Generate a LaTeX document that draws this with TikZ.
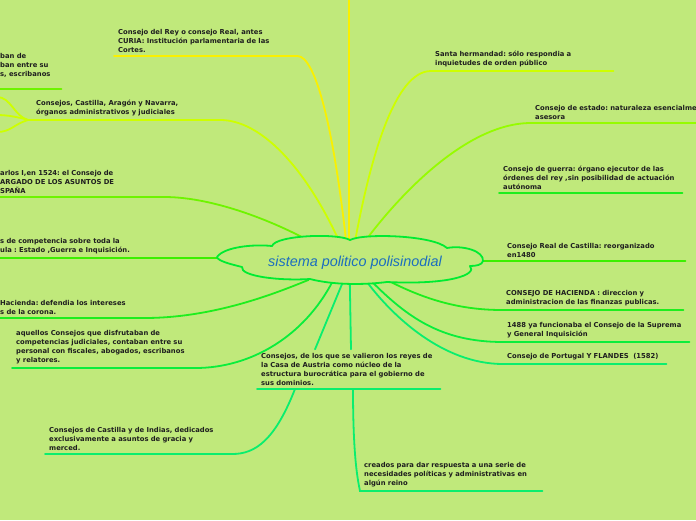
\documentclass[tikz,border=0pt]{standalone}
\usepackage{fontspec}
\setmainfont{DejaVu Sans}
\newfontfamily\corefont{Liberation Sans}
\usetikzlibrary{shapes.geometric}
\frenchspacing

\definecolor{mapbg}{RGB}{192,233,123}
\definecolor{coreblue}{RGB}{28,110,190}
\definecolor{coregreen}{RGB}{0,236,50}
\definecolor{gYellow}{RGB}{250,240,0}
\definecolor{gLime}{RGB}{206,255,0}
\definecolor{gChart}{RGB}{150,252,0}
\definecolor{gGreenA}{RGB}{110,244,0}
\definecolor{gGreenB}{RGB}{60,240,0}
\definecolor{gGreenC}{RGB}{30,238,30}
\definecolor{gGreenD}{RGB}{10,238,60}
\definecolor{gTeal}{RGB}{10,238,110}

\pgfdeclarelayer{paper}
\pgfdeclarelayer{links}
\pgfsetlayers{paper,links,main}

\begin{document}
\begin{tikzpicture}[x=1pt, y=-1pt,
  topic/.style={anchor=south west, align=left, inner xsep=4pt, inner ysep=3.5pt,
    font=\fontsize{6.8}{9}\selectfont\bfseries, text=black!88},
  link/.style={line width=1.8pt, line cap=round},
  core/.style={ellipse, minimum width=250pt, minimum height=36pt, inner sep=0pt,
    font=\corefont\fontsize{14.4}{16}\selectfont\itshape, text=coreblue},
  puffs/.style={draw=coregreen, fill=mapbg, line width=1.8pt, line join=round}
]

\begin{pgfonlayer}{paper}
\fill[mapbg] (0,0) rectangle (696,520);
\end{pgfonlayer}
\useasboundingbox (0,0) rectangle (696,520);
\clip (0,0) rectangle (696,520);

% cloud round the centre
\draw[puffs, shift={(348,261)}] (-131,-4)
  .. controls (-124,-14) and (-95,-17) .. (-76,-15)
  .. controls (-72,-26) and (-10,-28) .. (2,-21)
  .. controls (15,-28) and (85,-26) .. (99,-13)
  .. controls (115,-16) and (136,-10) .. (135,0)
  .. controls (134,4) and (128,5) .. (122,5)
  .. controls (130,14) and (100,24) .. (39,21)
  .. controls (15,24) and (-15,24) .. (-38,18)
  .. controls (-70,20) and (-108,15) .. (-106,6)
  .. controls (-118,3) and (-130,0) .. cycle;

% centre
\node[core] (core) at (355,263) {sistema politico polisinodial};

% topics
\node[topic, text width=175pt] (rey)     at (114,56)  {Consejo del Rey o consejo Real, antes\\CURIA: Institución parlamentaria de las\\Cortes.};
\node[topic, text width=180pt] (cal)     at (32,120)  {Consejos, Castilla, Aragón y Navarra,\\órganos administrativos y judiciales};
\node[topic, text width=57pt]  (tl)      at (-4,89)   {ban de\\ban entre su\\s, escribanos\\\mbox{}};
\node[topic, text width=160pt] (carlos)  at (-4,197)  {arlos I,en 1524: el Consejo de\\ARGADO DE LOS ASUNTOS DE\\SPAÑA};
\node[topic, text width=150pt] (comp)    at (-4,258)  {s de competencia sobre toda la\\ula : Estado ,Guerra e Inquisición.};
\node[topic, text width=140pt] (hacL)    at (-4,318)  {Hacienda: defendia los intereses\\s de la corona.};
\node[topic, text width=175pt] (aquel)   at (12,368)  {aquellos Consejos que disfrutaban de\\competencias judiciales, contaban entre su\\personal con fiscales, abogados, escribanos\\y relatores.};
\node[topic, text width=175pt] (aus)     at (257,389) {Consejos, de los que se valieron los reyes de\\la Casa de Austria como núcleo de la\\estructura burocrática para el gobierno de\\sus dominios.};
\node[topic, text width=179pt] (castind) at (45,454)  {Consejos de Castilla y de Indias, dedicados\\exclusivamente a asuntos de gracia y\\merced.};
\node[topic, text width=174pt] (creados) at (360,491) {creados para dar respuesta a una serie de\\necesidades políticas y administrativas en\\algún reino};
\node[topic, text width=174pt] (santa)   at (431,71)  {Santa hermandad: sólo respondia a\\inquietudes de orden público};
\node[topic, text width=200pt] (estado)  at (531,123) {Consejo de estado: naturaleza esencialmente\\asesora};
\node[topic, text width=175pt] (guerra)  at (499,193) {Consejo de guerra: órgano ejecutor de las\\órdenes del rey ,sin posibilidad de actuación\\autónoma};
\node[topic, text width=174pt] (realc)   at (503,261) {Consejo Real de Castilla: reorganizado\\en1480};
\node[topic, text width=173pt] (hacR)    at (502,310) {CONSEJO DE HACIENDA : direccion y\\administracion de las finanzas publicas.};
\node[topic, text width=178pt] (inq)     at (503,342) {1488 ya funcionaba el Consejo de la Suprema\\y General Inquisición};
\node[topic, text width=155pt] (port)    at (503,364) {Consejo de Portugal Y FLANDES\ \ (1582)};

\coordinate (up)   at (349,-5);
\coordinate (calj) at (28,120);
\coordinate (cl1)  at (-3,97);
\coordinate (cl2)  at (-3,115);
\coordinate (cl3)  at (-3,132);

% links
\begin{pgfonlayer}{links}
\draw[link, gYellow] (core.north -| up) -- (up);
\draw[link, gYellow] (core.115.6) .. controls +(-13,-118) and +(18,0) .. (rey.south east) -- (rey.south west);
\draw[link, gLime] (core.128.7) .. controls +(-35,-78) and +(40,0) .. (cal.south east) -- (calj);
\draw[link, gLime] (calj) .. controls +(-14,-4) and +(14,0) .. (cl1);
\draw[link, gLime] (calj) .. controls +(-10,-3) and +(10,0) .. (cl2);
\draw[link, gLime] (calj) .. controls +(-14,4) and +(14,0) .. (cl3);
\draw[link, gGreenA] (tl.south west) -- (tl.south east);
\draw[link, gGreenA] (core.155.6) .. controls +(-40,-23) and +(50,0) .. (carlos.south east) -- (carlos.south west);
\draw[link, gGreenB] (core.west |- comp.south) -- (comp.south west);
\draw[link, gGreenC] (core.200.7) .. controls +(-32,13) and +(70,0) .. (hacL.south east) -- (hacL.south west);
\draw[link, gGreenD] (core.219) .. controls +(-29,56) and +(55,0) .. (aquel.south east) -- (aquel.south west);

\draw[link, gTeal] (core.237.5) -- ([xshift=58pt]aus.north west);
\draw[link, gTeal] (core.254.7) -- ([xshift=94pt]aus.north west);
\draw[link, gTeal] (aus.south west) -- (aus.south east);
\draw[link, gTeal] ([xshift=38pt]aus.south west) .. controls +(-20,51) and +(23,0) .. (castind.south east) -- (castind.south west);
\draw[link, gTeal] ([xshift=96pt]aus.south west) .. controls +(0,70) and +(-2,-10) .. (creados.south west) -- (creados.south east);

\draw[link, gLime] (core.92.3) .. controls +(16,-88) and +(-36,0) .. (santa.south west) -- (santa.south east);
\draw[link, gChart] (core.68.2) .. controls +(35,-48) and +(-65,0) .. (estado.south west) -- (estado.south east);
\draw[link, gGreenC] (guerra.south west) -- (guerra.south east);
\draw[link, gGreenB] (core.east |- realc.south) -- (realc.south west) -- (realc.south east);
\draw[link, gGreenC] (core.332.8) .. controls +(37,19) and +(-42,0) .. (hacR.south west) -- (hacR.south east);
\draw[link, gGreenD] (core.312.3) .. controls +(35,35) and +(-63,0) .. (inq.south west) -- (inq.south east);
\draw[link, gTeal] (core.302.5) .. controls +(26,35) and +(-60,0) .. (port.south west) -- (port.south east);
\end{pgfonlayer}

\end{tikzpicture}
\end{document}
